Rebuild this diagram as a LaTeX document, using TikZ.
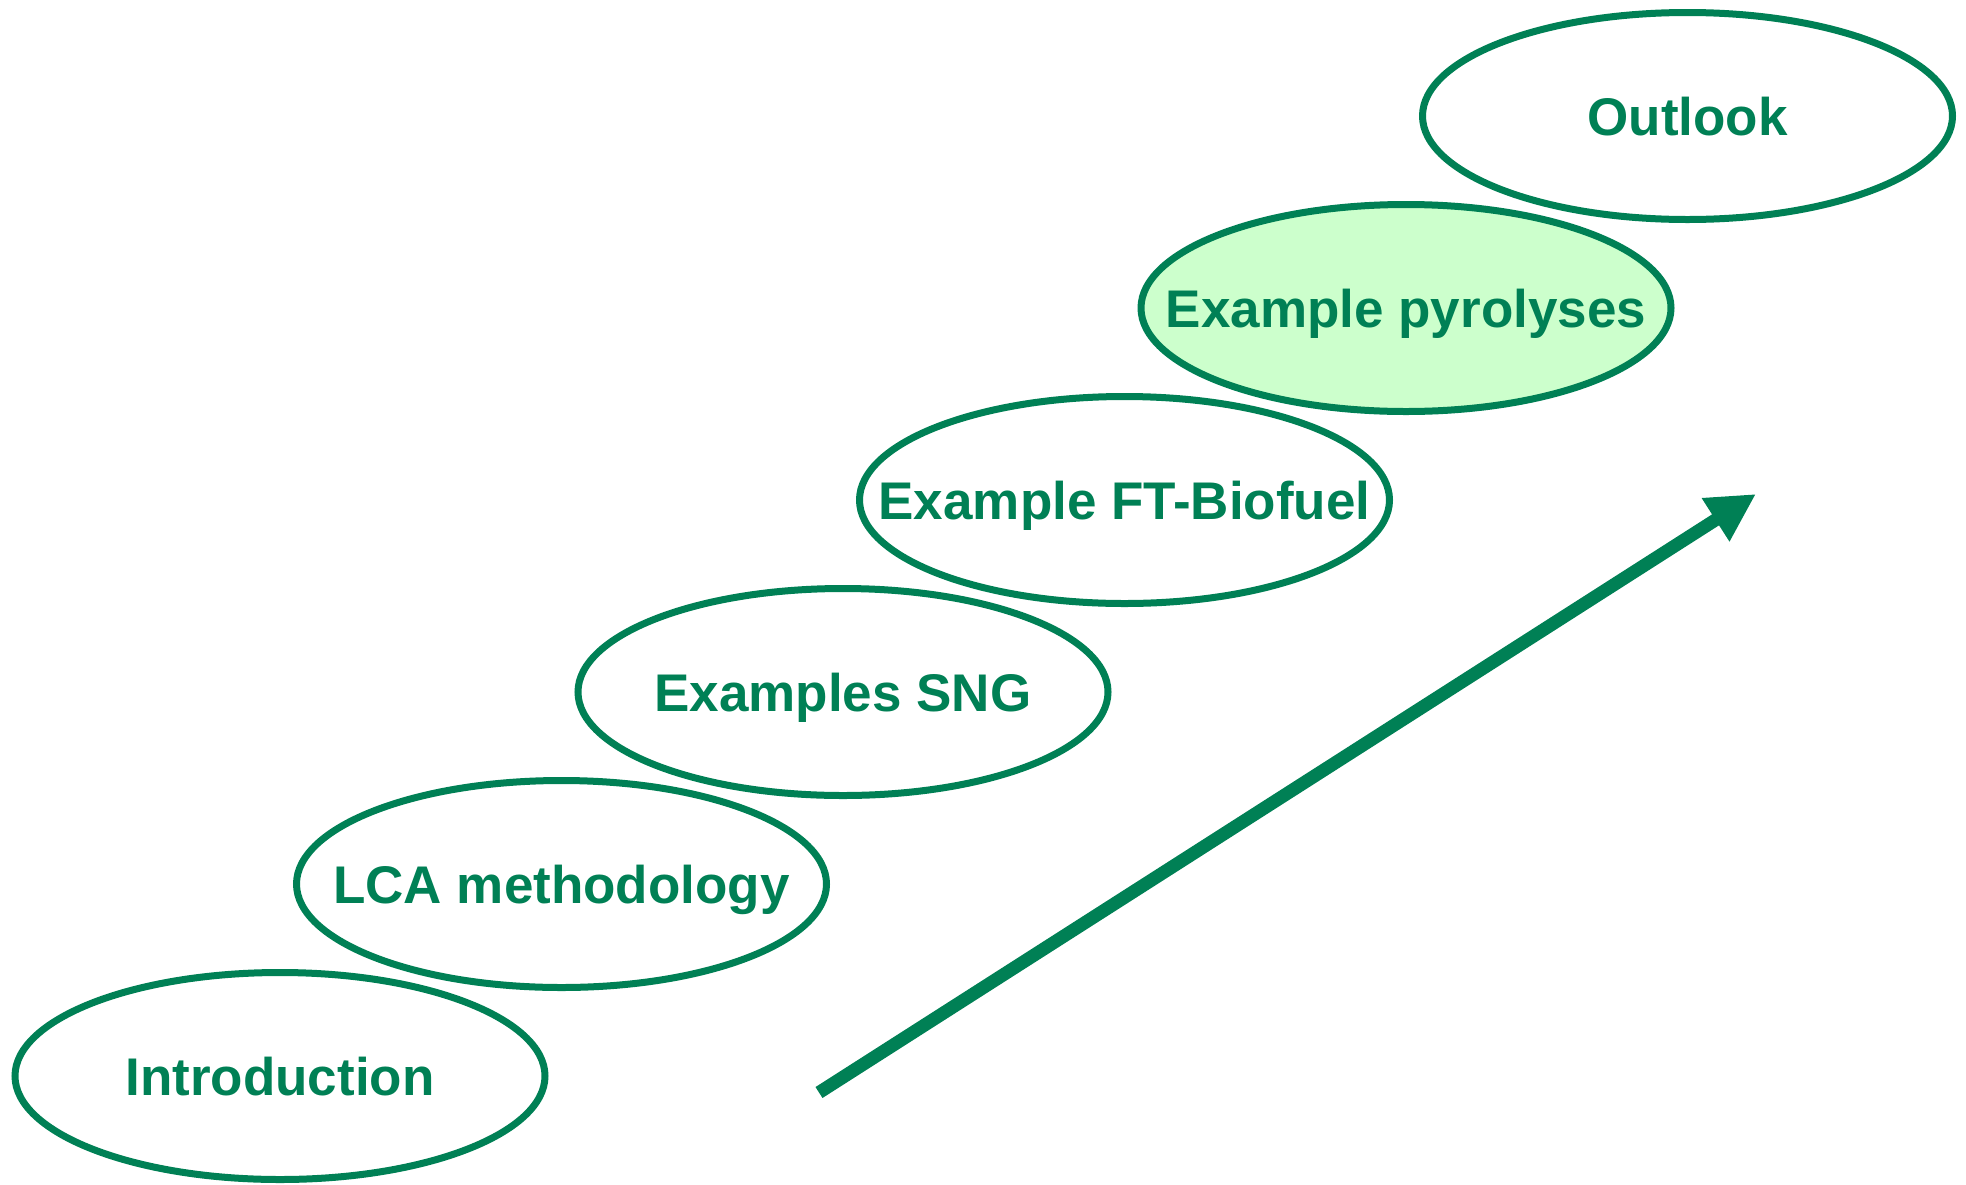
\documentclass[tikz,border=0pt]{standalone}
\usepackage{fontspec}
\setmainfont{Liberation Sans}
\usetikzlibrary{shapes.geometric,arrows.meta}
\definecolor{stepgreen}{RGB}{0,128,85}
\definecolor{hilite}{RGB}{204,255,204}
\tikzset{
  stepell/.style={draw=stepgreen, line width=7pt, ellipse, inner sep=0pt,
    minimum width=530pt, minimum height=207pt, fill=white},
  steptext/.style={anchor=base, text=stepgreen, inner sep=0pt,
    font=\fontsize{53}{60}\selectfont\bfseries},
  bigarrow/.style={draw=stepgreen, line width=13pt,
    -{Triangle[length=48pt,width=48pt]}}
}
\begin{document}
\begin{tikzpicture}[x=1pt,y=-1pt]
\useasboundingbox (0,0) rectangle (1966,1184);
\node (intro) [stepell] at (280,1076) {};
\node (lca)   [stepell] at (561.5,884) {};
\node (sng)   [stepell] at (843,692) {};
\node (ft)    [stepell] at (1124.5,500) {};
\node (pyro)  [stepell, fill=hilite] at (1406,308) {};
\node (out)   [stepell] at (1687.5,116) {};
\node (tintro) [steptext] at ([yshift=-19pt]intro.center) {Introduction};
\node (tlca)   [steptext] at ([yshift=-19pt]lca.center) {LCA methodology};
\node (tsng)   [steptext] at ([yshift=-19pt]sng.center) {Examples SNG};
\node (tft)    [steptext] at ([yshift=-19pt]ft.center) {Example FT-Biofuel};
\node (tpyro)  [steptext] at ([yshift=-19pt]pyro.center) {Example pyrolyses};
\node (tout)   [steptext] at ([yshift=-19pt]out.center) {Outlook};
\coordinate (atail) at (819,1092.5);
\coordinate (atip) at (1756,494);
\draw[bigarrow] (atail) -- (atip);
\end{tikzpicture}
\end{document}
